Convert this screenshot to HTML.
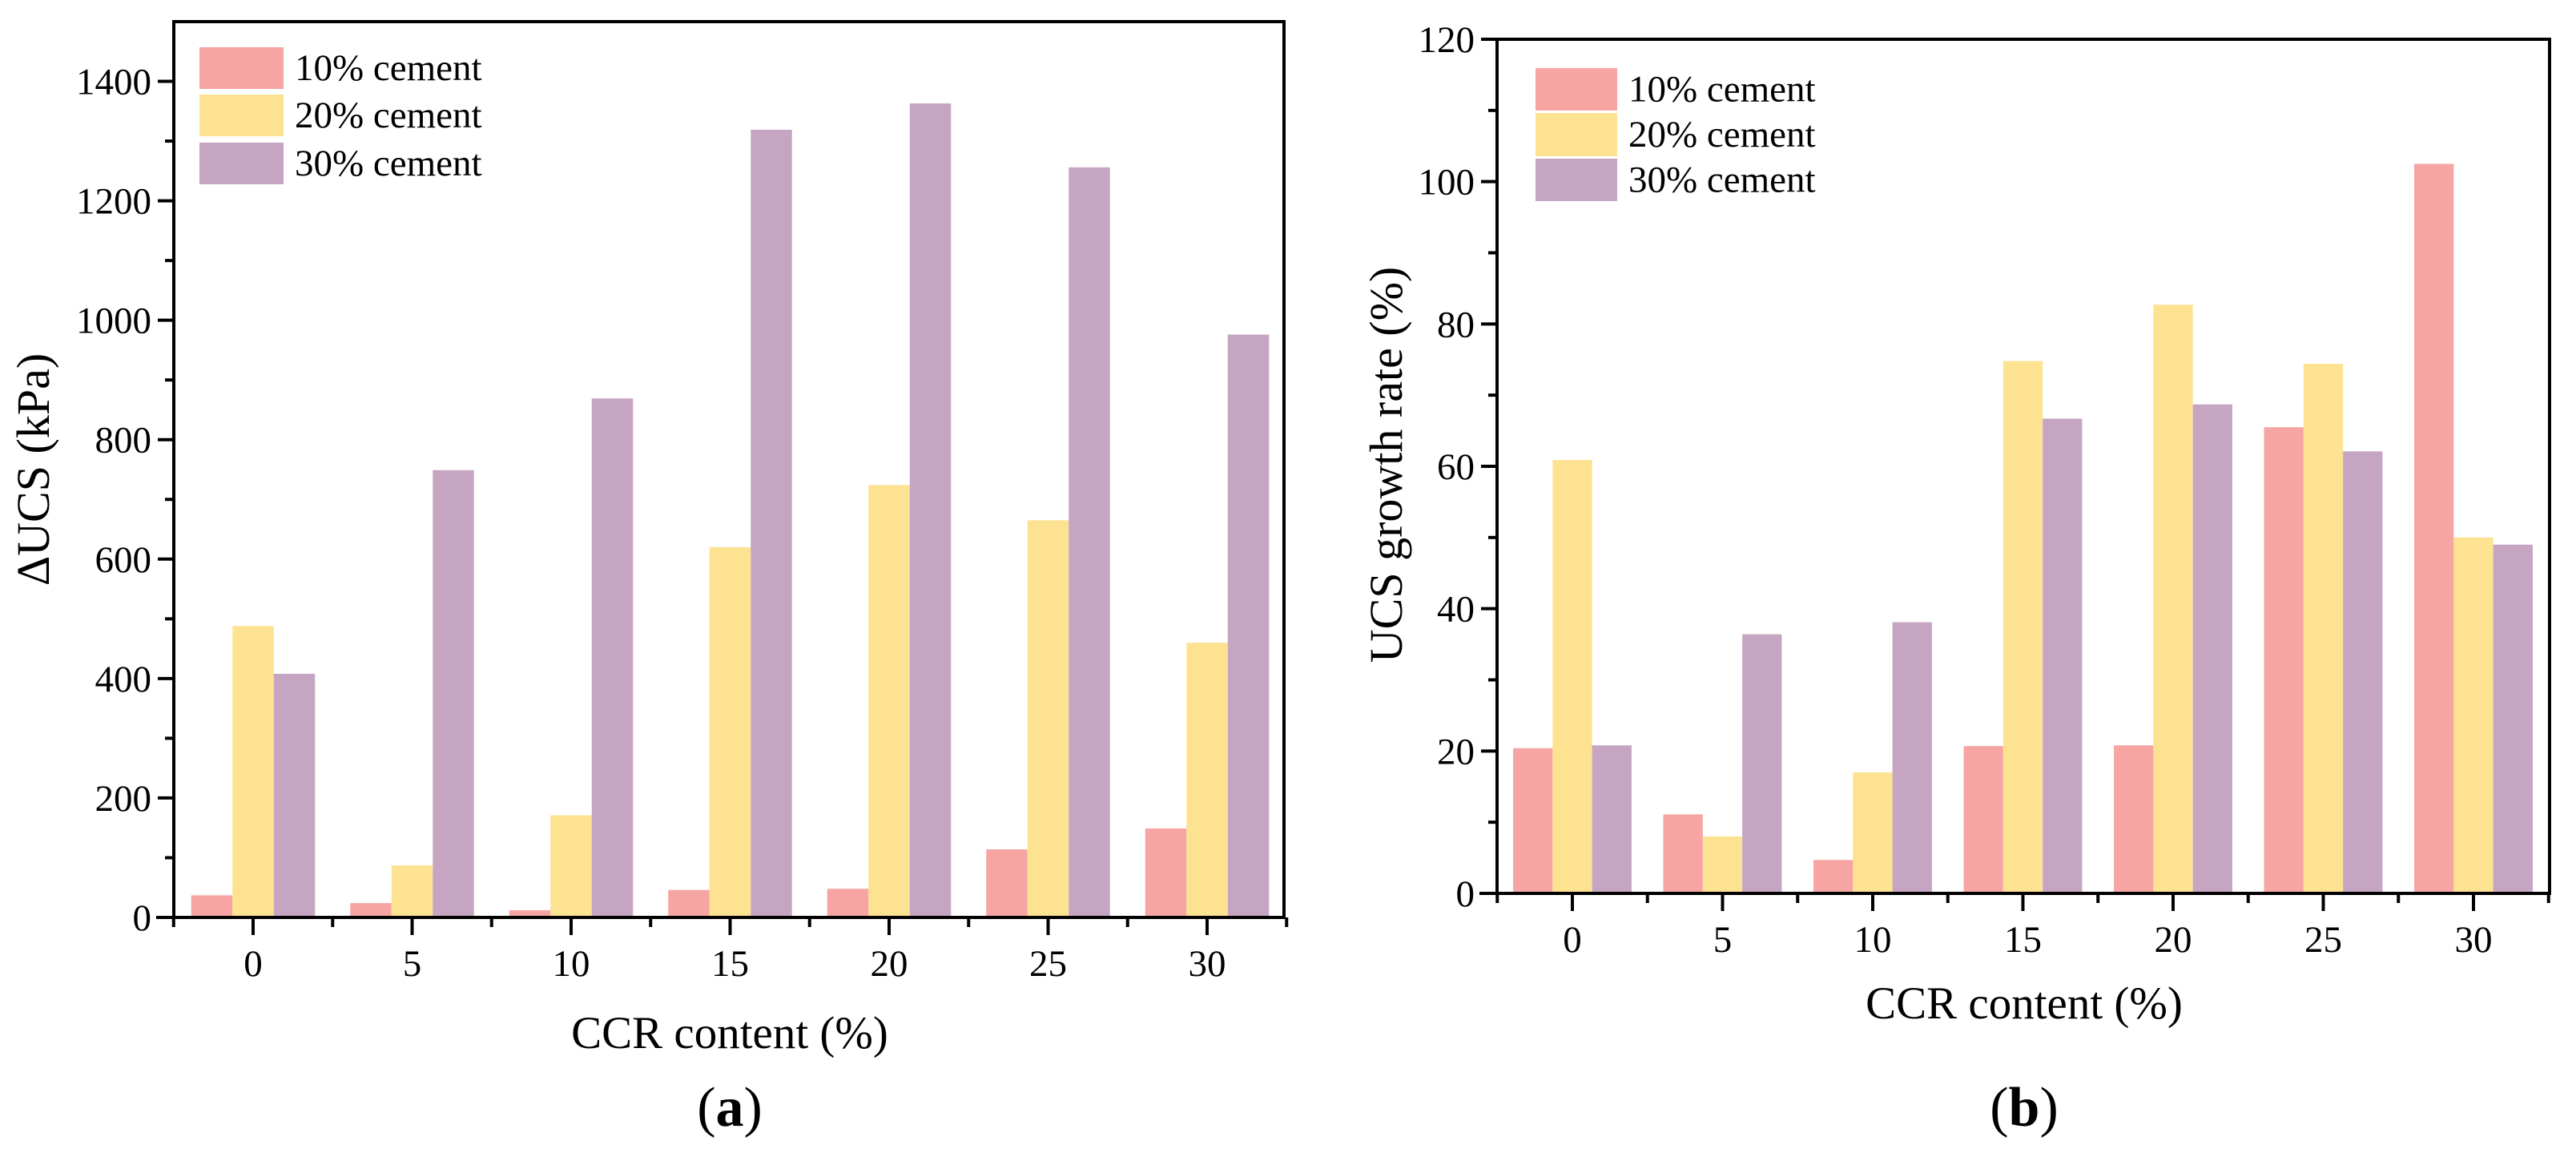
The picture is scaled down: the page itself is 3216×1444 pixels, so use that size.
<!DOCTYPE html>
<html><head><meta charset="utf-8"><style>
html,body{margin:0;padding:0;background:#fff;}
svg{display:block;font-family:"Liberation Serif",serif;}
text{font-family:"Liberation Serif",serif;}
</style></head><body>
<svg id="fig" width="3216" height="1444" viewBox="0 0 3216 1444" xmlns="http://www.w3.org/2000/svg"></svg>
<script>
const categories = ["0","5","10","15","20","25","30"];
const seriesNames = ["10% cement","20% cement","30% cement"];
const colors = ["#F7A5A3","#FDE291","#C6A5C2"];
const aCement10 = [37,24,12,46,48,114,149];
const aCement20 = [488,87,171,620,724,665,460];
const aCement30 = [408,749,869,1319,1363,1256,976];
const aTicks = [0,200,400,600,800,1000,1200,1400];
const bCement10 = [20.4,11.1,4.7,20.7,20.8,65.5,102.5];
const bCement20 = [60.9,8.0,17.0,74.8,82.7,74.4,50.0];
const bCement30 = [20.8,36.4,38.1,66.7,68.7,62.1,49.0];
const bTicks = [0,20,40,60,80,100,120];

const NS="http://www.w3.org/2000/svg";
const svg=document.getElementById('fig');
function mk(tag,attrs,parent){const e=document.createElementNS(NS,tag);for(const k in attrs)e.setAttribute(k,attrs[k]);(parent||svg).appendChild(e);return e;}

function panel(cfg){
  const g=mk('g',{});
  
  
  const {L,R,T,B,ymax,first,step,barW}=cfg;
  const y=v=>B-(v/ymax)*(B-T);
  const x=i=>first+i*step;
  cfg.series.forEach((vals,s)=>{
    vals.forEach((v,i)=>{
      const r=mk('rect',{x:x(i)-1.5*barW+s*barW,y:y(v),width:barW,height:B-y(v),fill:colors[s]},g);
      
      
    });
  });
  const fr=mk('rect',{x:L,y:T,width:R-L,height:B-T,fill:'none',stroke:'#000','stroke-width':4},g);
  
  
  mk('line',{x1:L-22,y1:B,x2:L,y2:B,stroke:'#000','stroke-width':4},g);
  cfg.ticks.forEach((t,k)=>{
    mk('line',{x1:L-20,y1:y(t),x2:L,y2:y(t),stroke:'#000','stroke-width':4},g);
    if(k<cfg.ticks.length-1){const m=(t+cfg.ticks[k+1])/2;mk('line',{x1:L-11,y1:y(m),x2:L,y2:y(m),stroke:'#000','stroke-width':4},g);}
    const tx=mk('text',{x:L-28,y:y(t)+16,'text-anchor':'end','font-size':47},g);
    tx.textContent=t;
    
    
  });
  categories.forEach((c,i)=>{
    mk('line',{x1:x(i),y1:B,x2:x(i),y2:B+22,stroke:'#000','stroke-width':4},g);
    mk('line',{x1:x(i)-step/2,y1:B,x2:x(i)-step/2,y2:B+12,stroke:'#000','stroke-width':4},g);
    const tx=mk('text',{x:x(i),y:B+73,'text-anchor':'middle','font-size':47},g);
    tx.textContent=c;
    
    
  });
  mk('line',{x1:x(6)+step/2,y1:B,x2:x(6)+step/2,y2:B+12,stroke:'#000','stroke-width':4},g);
  const xt=mk('text',{x:cfg.xtX,y:cfg.xtY,'text-anchor':'middle','font-size':57},g);
  xt.textContent='CCR content (%)';
  
  
  const yt=mk('text',{x:0,y:0,'text-anchor':'middle','font-size':58,transform:`translate(${cfg.ytX},${cfg.ytY}) rotate(-90)`},g);
  yt.textContent=cfg.ytitle;
  
  
  const pl=mk('text',{x:cfg.xtX,y:1405,'text-anchor':'middle','font-size':70},g);
  pl.innerHTML='(<tspan font-weight="bold">'+cfg.id+'</tspan>)';
  
  
  seriesNames.forEach((n,s)=>{
    const [y0,y1]=cfg.leg[s];
    const sw=mk('rect',{x:cfg.legX,y:y0,width:cfg.legW,height:y1-y0,fill:colors[s]},g);
    
    
    const lt=mk('text',{x:cfg.legX+cfg.legW+14,y:(y0+y1)/2+15,'font-size':47},g);
    lt.textContent=n;
    
    
  });
}

panel({id:'a',name:'chart-a',L:217,R:1603,T:27,B:1145,ymax:1500,first:316,step:198.5,barW:51.5,
  series:[aCement10,aCement20,aCement30],ticks:aTicks,ytitle:'ΔUCS (kPa)',
  xtX:911,xtY:1308,ytX:61,ytY:586,legX:249,legW:105,leg:[[59,111],[118,170],[178,230]]});
panel({id:'b',name:'chart-b',L:1869,R:3183,T:49,B:1115,ymax:120,first:1963,step:187.5,barW:49.3,
  series:[bCement10,bCement20,bCement30],ticks:bTicks,ytitle:'UCS growth rate (%)',
  xtX:2527,xtY:1271,ytX:1750,ytY:580,legX:1917,legW:102,leg:[[85,138],[141,195],[198,251]]});
</script>
</body></html>
